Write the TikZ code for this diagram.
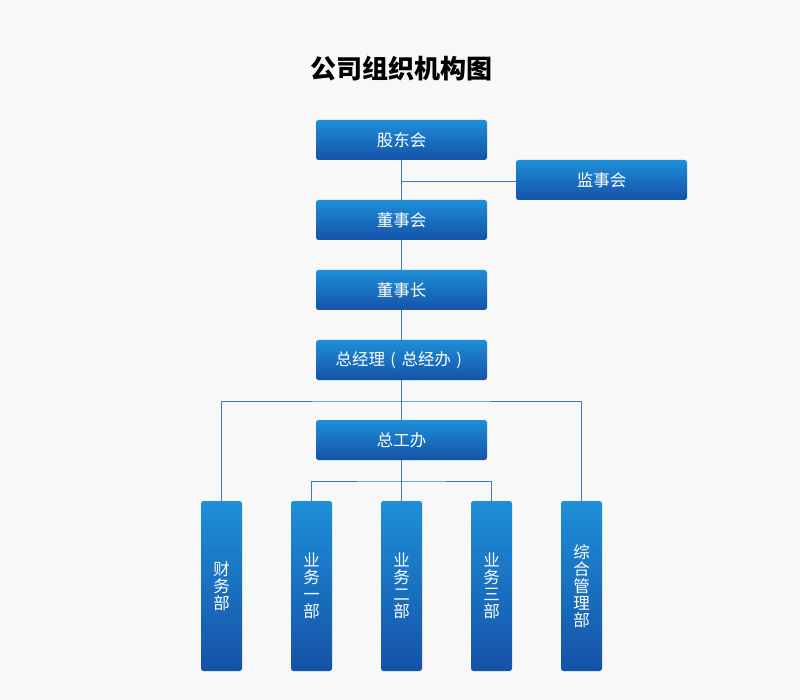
\documentclass[tikz,border=0pt]{standalone}
\usepackage{fontspec}
\setmainfont{Noto Sans CJK SC}
\usetikzlibrary{shadings}
\definecolor{bg}{HTML}{F8F8F8}
\definecolor{btop}{HTML}{1E8FD8}
\definecolor{bbot}{HTML}{1552A8}
\definecolor{ln}{HTML}{3A7BBE}
\newcommand{\fwp}[1]{\makebox[1em][c]{#1}}
\tikzset{
  orgbox/.style={rounded corners=2.5pt, top color=btop, bottom color=bbot, draw=none,
    text=white, font=\fontsize{16.5}{16.5}\selectfont, inner sep=0pt,
    minimum width=171pt, minimum height=40pt},
  vbox/.style={rounded corners=2.5pt, top color=btop, bottom color=bbot, draw=none,
    text=white, font=\fontsize{16.5}{17}\selectfont, inner sep=0pt, align=center,
    minimum width=41pt, minimum height=170pt},
  conn/.style={draw=ln, line width=0.8pt}
}
\begin{document}
\begin{tikzpicture}[x=1pt,y=-1pt]
\fill[bg] (0,0) rectangle (800,700);
\useasboundingbox (0,0) rectangle (800,700);
\node[font=\fontsize{26}{26}\selectfont\bfseries] (title) at (401,69) {公司组织机构图};
\node[orgbox] (gd) at (401.5,140) {股东会};
\node[orgbox] (js) at (601.5,180) {监事会};
\node[orgbox] (dsh) at (401.5,220) {董事会};
\node[orgbox] (dsz) at (401.5,290) {董事长};
\node[orgbox] (zjl) at (401.5,360) {总经理\fwp{(}总经办\fwp{)}};
\node[orgbox] (zgb) at (401.5,440) {总工办};
\node[vbox] (cw) at (221.5,586) {财\\务\\部};
\node[vbox] (yw1) at (311.5,586) {业\\务\\一\\部};
\node[vbox] (yw2) at (401.5,586) {业\\务\\二\\部};
\node[vbox] (yw3) at (491.5,586) {业\\务\\三\\部};
\node[vbox] (zh) at (581.5,586) {综\\合\\管\\理\\部};
\coordinate (jsj) at (401.5,181);
\coordinate (top) at (401.5,401);
\coordinate (mid) at (401.5,481);
\draw[conn] (gd.south) -- (dsh.north);
\draw[conn] (jsj) -- (js.west |- jsj);
\draw[conn] (dsh.south) -- (dsz.north);
\draw[conn] (dsz.south) -- (zjl.north);
\draw[conn] (zjl.south) -- (zgb.north);
\draw[conn] (cw.north) |- (top) -| (zh.north);
\draw[conn] (zgb.south) -- (yw2.north);
\draw[conn] (yw1.north) |- (mid) -| (yw3.north);
\end{tikzpicture}
\end{document}
